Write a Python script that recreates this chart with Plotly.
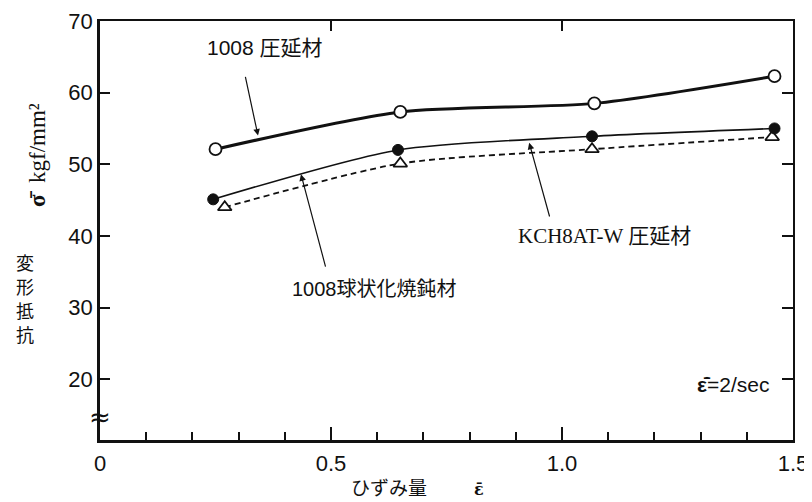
import plotly.graph_objects as go

# data
x_rolled = [0.25, 0.65, 1.07, 1.46]
y_rolled = [52.1, 57.3, 58.5, 62.3]
x_kch = [0.245, 0.645, 1.065, 1.46]
y_kch = [45.1, 52.0, 53.9, 55.0]
x_sph = [0.27, 0.65, 1.065, 1.455]
y_sph = [44.0, 50.1, 52.1, 53.8]

x_ticks = [0, 0.5, 1.0, 1.5]
x_tick_text = ["0", "0.5", "1.0", "1.5"]
y_ticks = [20, 30, 40, 50, 60, 70]
y_title_chars = ["変", "形", "抵", "抗"]

TICKFONT = dict(family="Liberation Sans Narrow, Liberation Sans, Arial", size=22, color="#111")
JP = "Noto Sans CJK JP"

fig = go.Figure()

fig.add_trace(go.Scatter(
    x=x_sph, y=y_sph, mode="lines+markers",
    line=dict(color="#111", width=1.8, dash="6px,4px", shape="spline", smoothing=0.7),
    marker=dict(symbol="triangle-up", size=12, color="white", line=dict(color="#111", width=1.8)),
    showlegend=False))
fig.add_trace(go.Scatter(
    x=x_kch, y=y_kch, mode="lines+markers",
    line=dict(color="#111", width=1.6, shape="spline", smoothing=0.7),
    marker=dict(symbol="circle", size=11, color="#111", line=dict(color="#111", width=1)),
    showlegend=False))
fig.add_trace(go.Scatter(
    x=x_rolled, y=y_rolled, mode="lines+markers",
    line=dict(color="#111", width=3, shape="spline", smoothing=0.7),
    marker=dict(symbol="circle", size=12, color="white", line=dict(color="#111", width=1.8)),
    showlegend=False))
# helper trace for mirrored (top/right) axes
fig.add_trace(go.Scatter(x=[None], y=[None], xaxis="x2", yaxis="y2", showlegend=False, hoverinfo="skip"))

# page body has an 8px margin, so the figure is offset by 8px
fig.update_layout(
    width=804, height=494,
    margin=dict(l=92, r=19, t=13, b=62),
    paper_bgcolor="white", plot_bgcolor="white",
    xaxis=dict(range=[0, 1.5], tickvals=x_ticks, ticktext=x_tick_text, ticks="inside",
               ticklen=13, tickwidth=1.5, tickcolor="#111", automargin=False,
               minor=dict(dtick=0.1, ticks="inside", ticklen=8, tickwidth=1.5, tickcolor="#111"),
               showline=True, linewidth=2.5, linecolor="#111", showgrid=False, zeroline=False,
               tickfont=TICKFONT, ticklabelstandoff=2),
    yaxis=dict(range=[11.5, 70], tickvals=y_ticks, ticks="inside", ticklen=10, tickwidth=1.5,
               tickcolor="#111", showline=True, linewidth=2.5, linecolor="#111", automargin=False,
               showgrid=False, zeroline=False, tickfont=TICKFONT),
    xaxis2=dict(range=[0, 1.5], overlaying="x", side="top", tickvals=[0.5, 1.0], ticks="inside",
                ticklen=10, tickwidth=1.5, tickcolor="#111", showticklabels=False, automargin=False,
                showline=True, linewidth=1.8, linecolor="#111", showgrid=False, zeroline=False),
    yaxis2=dict(range=[11.5, 70], overlaying="y", side="right", tickvals=[20, 30, 40, 50, 60],
                ticks="inside", ticklen=11, tickwidth=1.5, tickcolor="#111", showticklabels=False,
                automargin=False,
                showline=True, linewidth=1.8, linecolor="#111", showgrid=False, zeroline=False),
)

ann = []
def arrow(xt, yt, xa, ya):
    ann.append(dict(x=xt, y=yt, ax=xa, ay=ya, xref="x", yref="y", axref="x", ayref="y",
                    text="", showarrow=True, arrowhead=2, arrowsize=1.1, arrowwidth=1.2,
                    arrowcolor="#111", standoff=0))

arrow(0.342, 54.0, 0.314, 62.4)
arrow(0.929, 53.0, 0.974, 42.5)
arrow(0.435, 48.6, 0.489, 35.5)

ann.append(dict(x=0.357, y=66.5, xref="x", yref="y", showarrow=False,
                text=f"1008 <span style='font-family:{JP}'>圧延材</span>",
                font=dict(family="Liberation Sans Narrow, Liberation Sans", size=21, color="#111")))
ann.append(dict(x=1.093, y=40.3, xref="x", yref="y", showarrow=False,
                text=f"KCH8AT-W <span style='font-family:{JP}'>圧延材</span>",
                font=dict(family="Liberation Serif", size=21, color="#111")))
ann.append(dict(x=0.595, y=32.8, xref="x", yref="y", showarrow=False,
                text=f"1008<span style='font-family:{JP}'>球状化焼鈍材</span>",
                font=dict(family="Liberation Sans Narrow, Liberation Sans", size=20, color="#111")))
ann.append(dict(x=1.37, y=19.2, xref="x", yref="y", showarrow=False,
                text="<b>ε̇̄</b>=2/sec",
                font=dict(family="Liberation Sans", size=21, color="#111")))
# axis break mark
ann.append(dict(x=0, y=14.7, xref="x", yref="y", showarrow=False, text="≈",
                font=dict(family="DejaVu Sans", size=26, color="#111")))
# x-axis title
ann.append(dict(x=0.626, y=-0.112, xref="x", yref="paper", showarrow=False, text="ひずみ量",
                yanchor="middle",
                font=dict(family=JP, size=19, color="#111")))
ann.append(dict(x=0.82, y=-0.119, xref="x", yref="paper", showarrow=False, text="<b>ε̄</b>",
                yanchor="middle",
                font=dict(family="DejaVu Serif", size=16, color="#111")))
# y-axis titles
ann.append(dict(x=-0.091, y=0.68, xref="paper", yref="paper", showarrow=False,
                xanchor="center", yanchor="middle",
                text="<b>σ̄</b>  kgf/mm²", textangle=-90,
                font=dict(family="Liberation Serif", size=23, color="#111")))
for i, ch in enumerate(y_title_chars):
    ann.append(dict(x=-0.108, y=0.425 - i * 0.0575, xref="paper", yref="paper", showarrow=False,
                    xanchor="center", yanchor="middle", text=ch,
                    font=dict(family=JP, size=18, color="#111")))
fig.update_layout(annotations=ann)

fig.write_html("out.html")
